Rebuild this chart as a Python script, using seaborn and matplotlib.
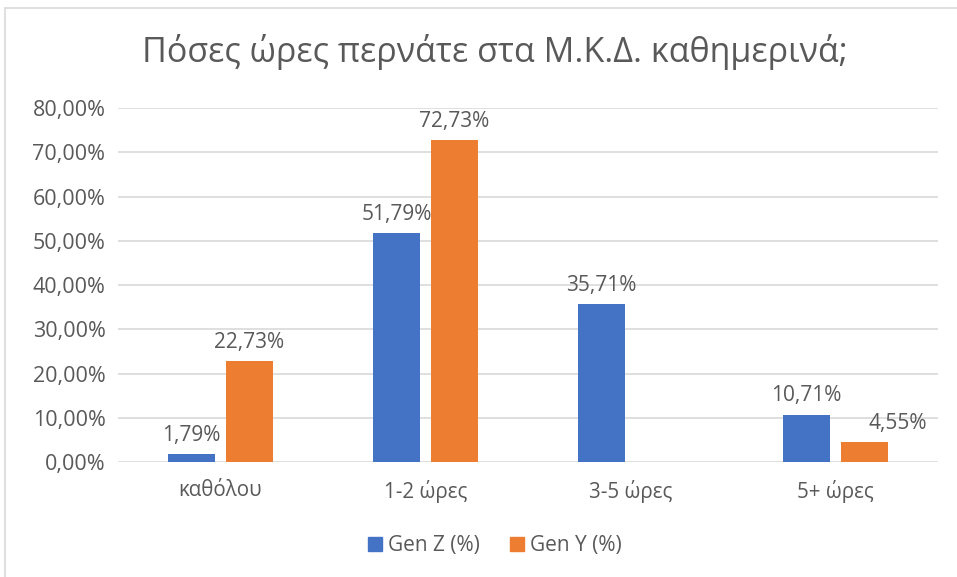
import numpy as np
import pandas as pd
import matplotlib
matplotlib.use('Agg')
import matplotlib.pyplot as plt
import seaborn as sns
from matplotlib.patches import Rectangle
from matplotlib.lines import Line2D

# --- Data ---
categories = ['καθόλου', '1-2 ώρες', '3-5 ώρες', '5+ ώρες']
gen_z = [1.79, 51.79, 35.71, 10.71]
gen_y = [22.73, 72.73, np.nan, 4.55]
series_names = ['Gen Z (%)', 'Gen Y (%)']
title = 'Πόσες ώρες περνάτε στα Μ.Κ.Δ. καθημερινά;'
y_ticks = [0, 10, 20, 30, 40, 50, 60, 70, 80]

# --- Style ---
BLUE = '#4472C4'
ORANGE = '#ED7D31'
TEXT = '#595959'
GRID = '#D9D9D9'

sns.set_theme(style='white')
plt.rcParams['font.family'] = ['Open Sans', 'DejaVu Sans']

df = pd.DataFrame({
    'category': categories * 2,
    'series': [series_names[0]] * len(categories) + [series_names[1]] * len(categories),
    'value': gen_z + gen_y,
}).dropna()

fig = plt.figure(figsize=(9.57, 5.77), dpi=100)
ax = fig.add_axes([0.1233, 0.1993, 0.857, 0.6135])

sns.barplot(data=df, x='category', y='value', hue='series', order=categories,
            hue_order=series_names, palette=[BLUE, ORANGE], width=0.566, gap=0.2,
            saturation=1, linewidth=0, legend=False, ax=ax)

ax.set_ylim(0, 80)
ax.set_xlim(-0.5, len(categories) - 0.5)
ax.set_yticks(y_ticks)
ax.set_yticklabels([f'{v:.2f}%'.replace('.', ',') for v in y_ticks])
ax.yaxis.grid(True, color=GRID, linewidth=1.2)
ax.set_axisbelow(True)
for s in ax.spines.values():
    s.set_visible(False)
ax.tick_params(axis='both', length=0, labelsize=15.5, colors=TEXT, pad=9)
ax.tick_params(axis='x', labelsize=14.8, pad=13)
ax.set_xlabel('')
ax.set_ylabel('')

# data labels
for c in ax.containers:
    labels = [f'{v:.2f}%'.replace('.', ',') for v in c.datavalues]
    texts = ax.bar_label(c, labels=labels, padding=6, fontsize=15, color=TEXT)
    for t in texts:
        if t.get_text() == '4,55%':
            t.xyann = (24, 6)

fig.text(495 / 957, 1 - 52 / 577, title, ha='center', va='center', fontsize=24.5, color=TEXT)

handles = [Line2D([], [], marker='s', linestyle='', markersize=10, color=col)
           for col in [BLUE, ORANGE]]
fig.legend(handles, series_names, loc='center', bbox_to_anchor=(493 / 957, 1 - 546 / 577),
           ncol=2, frameon=False, fontsize=15, labelcolor=TEXT,
           handletextpad=0.1, columnspacing=1.3, handlelength=1.0)

# chart area border
fig.patches.append(Rectangle((5 / 957, -0.1), 1.2, 1 - 8 / 577 + 0.1,
                             transform=fig.transFigure, fill=False,
                             edgecolor=GRID, linewidth=1.2))

fig.savefig('out.png', dpi=100)
